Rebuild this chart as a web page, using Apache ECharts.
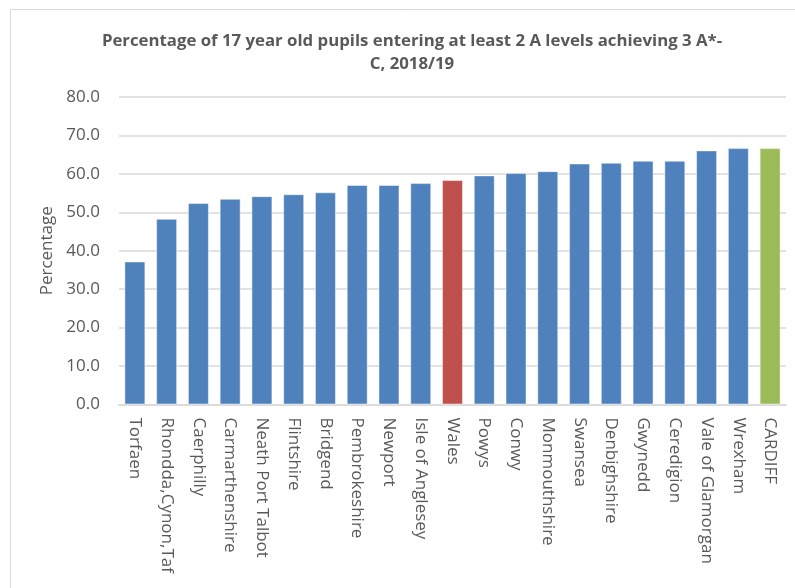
<!DOCTYPE html>
<html>
<head>
<meta charset="utf-8">
<script src="https://cdn.jsdelivr.net/npm/echarts@6/dist/echarts.min.js"></script>
<style>
html,body{margin:0;padding:0;background:#fff;}
#chart{width:795px;height:588px;}
</style>
</head>
<body>
<div id="chart"></div>
<script>
const categories = ["Torfaen","Rhondda,Cynon,Taf","Caerphilly","Carmarthenshire","Neath Port Talbot","Flintshire","Bridgend","Pembrokeshire","Newport","Isle of Anglesey","Wales","Powys","Conwy","Monmouthshire","Swansea","Denbighshire","Gwynedd","Ceredigion","Vale of Glamorgan","Wrexham","CARDIFF"];
const values = [37.2,48.3,52.4,53.5,54.2,54.7,55.2,57.1,57.1,57.6,58.4,59.6,60.2,60.7,62.7,62.9,63.4,63.4,66.1,66.7,66.7];
const yTicks = [0,10,20,30,40,50,60,70,80];

const BLUE = '#4F81BD', RED = '#C0504D', GREEN = '#9BBB59';
function colorFor(name){
  if (name === 'Wales') return RED;
  if (name === 'CARDIFF') return GREEN;
  return BLUE;
}
const FONT = '"Open Sans", Lato, sans-serif';
const chart = echarts.init(document.getElementById('chart'), null, {renderer:'canvas'});
chart.setOption({
  animation:false,
  backgroundColor:'#fff',
  graphic:[{
    type:'rect', silent:true,
    shape:{x:10.5,y:9.5,width:800,height:600},
    style:{fill:'none',stroke:'#D9D9D9',lineWidth:1}
  }],
  title:{
    text:'Percentage of 17 year old pupils entering at least 2 A levels achieving 3 A*-\nC, 2018/19',
    left:407, top:25, textAlign:'center',
    textStyle:{fontFamily:FONT,fontSize:16.8,fontWeight:'bold',color:'#595959',lineHeight:23}
  },
  grid:{left:119,right:9,top:97,height:307.5,containLabel:false},
  xAxis:{
    type:'category',
    data:categories,
    axisLine:{show:true,lineStyle:{color:'#D9D9D9',width:1.5}},
    axisTick:{show:false},
    axisLabel:{rotate:-90,interval:0,margin:13,color:'#595959',fontFamily:FONT,fontSize:17}
  },
  yAxis:{
    type:'value',
    min:yTicks[0], max:yTicks[yTicks.length-1], interval:10,
    name:'Percentage', nameLocation:'middle', nameGap:63, nameRotate:90,
    nameTextStyle:{color:'#595959',fontFamily:FONT,fontSize:17},
    axisLine:{show:false}, axisTick:{show:false},
    axisLabel:{formatter:v=>v.toFixed(1),color:'#595959',fontFamily:FONT,fontSize:17,margin:19},
    splitLine:{lineStyle:{color:'#D9D9D9',width:1.5}}
  },
  series:[{
    type:'bar',
    data:values.map((v,i)=>({value:v,itemStyle:{color:colorFor(categories[i])}})),
    barWidth:'66%',
    itemStyle:{borderColor:'rgba(255,255,255,0.45)',borderWidth:1}
  }]
});
</script>
</body>
</html>
